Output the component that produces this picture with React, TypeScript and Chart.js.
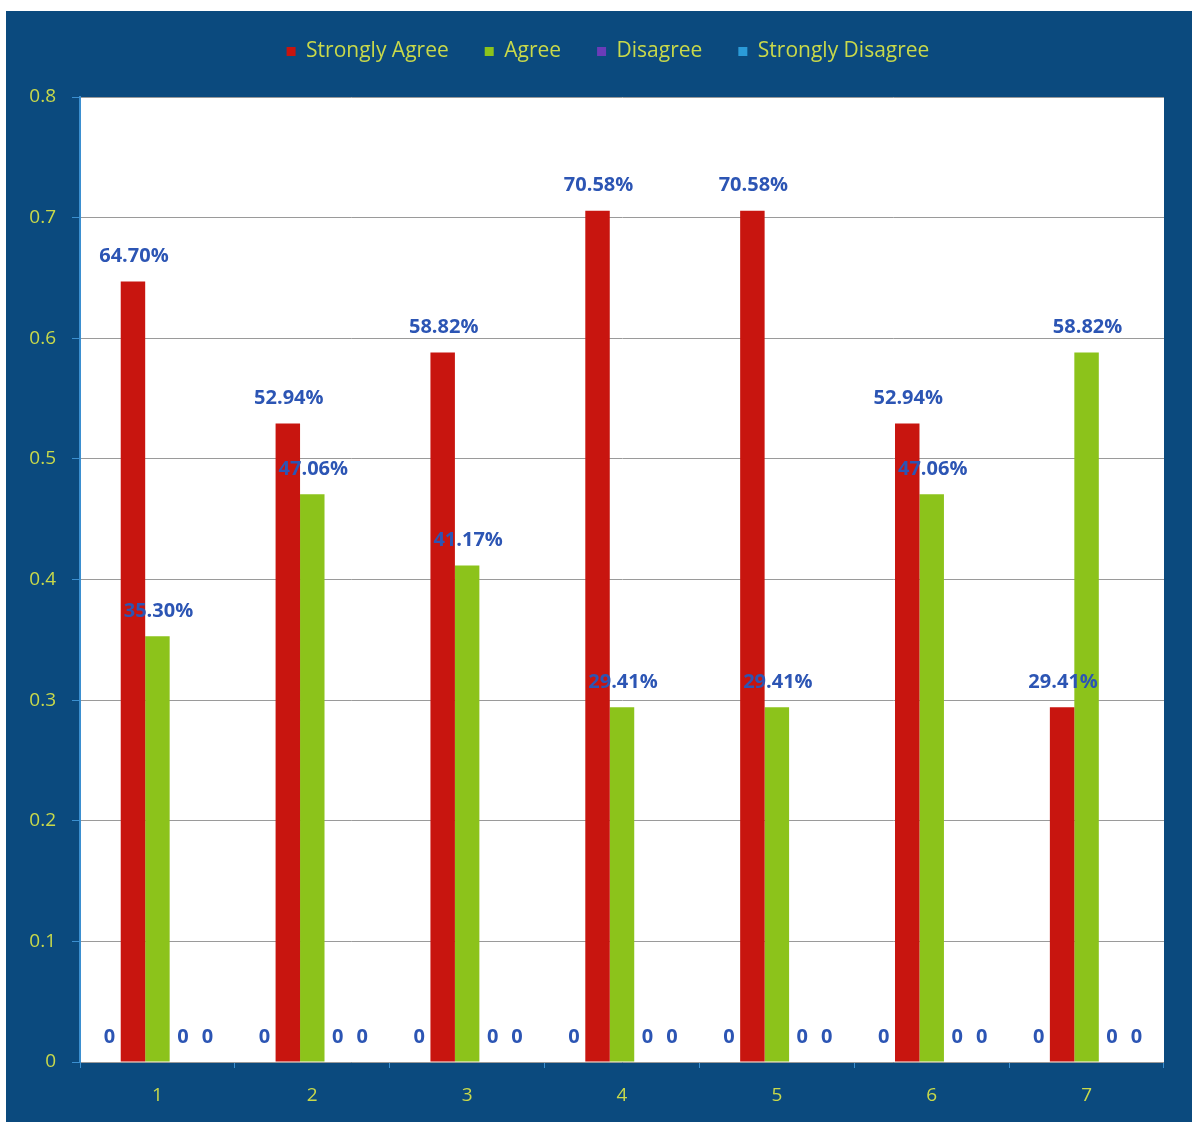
import { useEffect, useRef } from 'react';
import { Chart, registerables } from 'chart.js';

Chart.register(...registerables);

const categories = ['1', '2', '3', '4', '5', '6', '7'];
const seriesNames = ['Strongly Agree', 'Agree', 'Disagree', 'Strongly Disagree'];
const blankSeries = [0, 0, 0, 0, 0, 0, 0];
const stronglyAgree = [0.647, 0.5294, 0.5882, 0.7058, 0.7058, 0.5294, 0.2941];
const agree = [0.353, 0.4706, 0.4117, 0.2941, 0.2941, 0.4706, 0.5882];
const disagree = [0, 0, 0, 0, 0, 0, 0];
const stronglyDisagree = [0, 0, 0, 0, 0, 0, 0];
const yMin = 0;
const yMax = 0.8;
const yStep = 0.1;

const BG = '#0b4a7e';
const LABEL_YELLOW = '#c9d94a';
const VALUE_BLUE = '#2c55b4';

const backgroundPlugin = {
  id: 'bgPlugin',
  beforeDraw(chart: any) {
    const { ctx, chartArea, width, height } = chart;
    ctx.save();
    ctx.fillStyle = BG;
    ctx.fillRect(0, 0, width, height);
    ctx.fillStyle = '#ffffff';
    ctx.fillRect(chartArea.left, chartArea.top, chartArea.right - chartArea.left, chartArea.bottom - chartArea.top);
    ctx.restore();
  },
};

const valueLabelPlugin = {
  id: 'valueLabels',
  afterDatasetsDraw(chart: any) {
    const { ctx } = chart;
    ctx.save();
    ctx.font = 'bold 20px "Open Sans"';
    ctx.fillStyle = VALUE_BLUE;
    ctx.textAlign = 'center';
    ctx.textBaseline = 'middle';
    chart.data.datasets.forEach((ds: any, di: number) => {
      const meta = chart.getDatasetMeta(di);
      meta.data.forEach((bar: any, i: number) => {
        const v = ds.data[i] as number;
        const text = v === 0 ? '0' : (v * 100).toFixed(2) + '%';
        ctx.fillText(text, bar.x + 1, bar.y - 25);
      });
    });
    ctx.restore();
  },
};

export default function App() {
  const ref = useRef<HTMLCanvasElement | null>(null);

  useEffect(() => {
    if (!ref.current) return;
    const chart = new Chart(ref.current, {
      type: 'bar',
      data: {
        labels: categories,
        datasets: [
          { label: '', data: blankSeries, backgroundColor: '#ffffff' },
          { label: seriesNames[0], data: stronglyAgree, backgroundColor: '#c8150f' },
          { label: seriesNames[1], data: agree, backgroundColor: '#8cc31b' },
          { label: seriesNames[2], data: disagree, backgroundColor: '#6b3cb8' },
          { label: seriesNames[3], data: stronglyDisagree, backgroundColor: '#2b9bd8' },
        ],
      },
      options: {
        animation: false,
        responsive: false,
        layout: { padding: { top: -6, right: -18, left: 0, bottom: 0 } },
        datasets: { bar: { categoryPercentage: 0.79, barPercentage: 1.0 } },
        plugins: {
          tooltip: { enabled: false },
          title: {
            display: true,
            text: ' ',
            weight: 500,
            font: { size: 10 },
            padding: { top: 7, bottom: 6 },
          },
          legend: {
            display: true,
            position: 'top',
            labels: {
              color: LABEL_YELLOW,
              font: { family: 'Open Sans', size: 21 },
              boxWidth: 9,
              boxHeight: 9,
              padding: 36,
              filter: (item: any) => item.text !== '',
            },
          },
        },
        scales: {
          x: {
            grid: { display: true, drawOnChartArea: false, tickLength: 6, color: '#3b8fd0' },
            border: { display: false },
            ticks: { color: LABEL_YELLOW, font: { family: 'Open Sans', size: 19 }, padding: 16 },
            afterFit: (scale: any) => { scale.height = 60; },
          },
          y: {
            min: yMin,
            max: yMax,
            ticks: {
              stepSize: yStep,
              color: LABEL_YELLOW,
              font: { family: 'Open Sans', size: 19 },
              padding: 16,
              callback: (v: any) => String(Math.round(Number(v) * 10) / 10),
            },
            grid: { color: '#9a9a9a', tickLength: 8, tickColor: '#3b8fd0' },
            border: { display: true, color: '#3b8fd0', width: 2 },
            afterFit: (scale: any) => { scale.width = 74; },
          },
          yRight: {
            type: 'linear',
            position: 'right',
            min: yMin,
            max: yMax,
            ticks: { display: false },
            grid: { display: false },
            border: { display: false },
            afterFit: (scale: any) => { scale.width = 46; },
          },
        },
      },
      plugins: [backgroundPlugin, valueLabelPlugin],
    });
    return () => chart.destroy();
  }, []);

  return (
    <div style={{ position: 'absolute', left: 6, top: 11, width: 1186, height: 1111 }}>
      <canvas ref={ref} width={1186} height={1111} style={{ display: 'block' }} />
    </div>
  );
}
